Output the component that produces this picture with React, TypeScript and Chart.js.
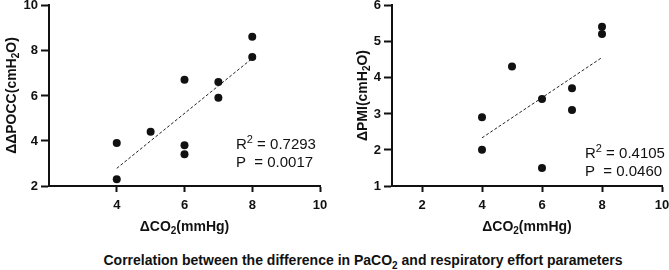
import React, { useEffect, useRef } from "react";
import { Chart, registerables } from "chart.js";
Chart.register(...registerables);

const leftX = [4, 4, 5, 6, 6, 6, 7, 7, 8, 8];
const leftY = [3.9, 2.3, 4.4, 6.7, 3.8, 3.4, 6.6, 5.9, 8.6, 7.7];
const leftFitX = [4, 8];
const leftFitY = [2.78, 7.64];
const rightX = [4, 4, 5, 6, 6, 7, 7, 8, 8];
const rightY = [2.9, 2.0, 4.3, 3.4, 1.5, 3.7, 3.1, 5.4, 5.2];
const rightFitX = [4, 8];
const rightFitY = [2.33, 4.55];
const leftXTicks = [4, 6, 8, 10];
const rightXTicks = [2, 4, 6, 8, 10];
const leftYTicks = [2, 4, 6, 8, 10];
const rightYTicks = [1, 2, 3, 4, 5, 6];
const leftStats = [["R", "2", " = 0.7293"], ["P  = 0.0017"]];
const rightStats = [["R", "2", " = 0.4105"], ["P  = 0.0460"]];
// title segments: [normal, subscript, normal]
const xTitle = ["ΔCO", "2", "(mmHg)"];
const leftYTitle = ["ΔΔPOCC(cmH", "2", "O)"];
const rightYTitle = ["ΔPMI(cmH", "2", "O)"];

const FONT = "'Liberation Sans', Arial, Helvetica, sans-serif";
const INK = "#111";

function drawSegs(ctx: any, segs: string[], cx: number, cy: number, size: number) {
  const big = `bold ${size}px ${FONT}`;
  const small = `bold ${Math.round(size * 0.72)}px ${FONT}`;
  let total = 0;
  const widths = segs.map((s, i) => {
    ctx.font = i === 1 ? small : big;
    const w = ctx.measureText(s).width;
    total += w;
    return w;
  });
  let x = cx - total / 2;
  segs.forEach((s, i) => {
    ctx.font = i === 1 ? small : big;
    ctx.fillText(s, x, cy + (i === 1 ? size * 0.3 : 0));
    x += widths[i];
  });
}

const labelsPlugin = {
  id: "axlabels",
  afterDraw(chart: any, _args: any, opts: any) {
    const ctx = chart.ctx;
    const a = chart.chartArea;
    ctx.save();
    ctx.fillStyle = INK;
    // tick labels
    ctx.font = `bold 13px ${FONT}`;
    ctx.textBaseline = "middle";
    ctx.textAlign = "center";
    const xs = chart.scales.x;
    xs.ticks.forEach((t: any) => {
      ctx.fillText(String(t.value), xs.getPixelForValue(t.value), a.bottom + 19);
    });
    ctx.textAlign = "right";
    const ys = chart.scales.y;
    ys.ticks.forEach((t: any) => {
      ctx.fillText(String(t.value), a.left - 11, ys.getPixelForValue(t.value) + 0.5);
    });
    // titles
    ctx.textAlign = "left";
    drawSegs(ctx, opts.x, (a.left + a.right) / 2, opts.xy, 14);
    ctx.translate(opts.yx, (a.top + a.bottom) / 2);
    ctx.rotate(-Math.PI / 2);
    drawSegs(ctx, opts.y, 0, 0, 14);
    ctx.restore();
  },
};

const statsPlugin = {
  id: "stats",
  afterDraw(chart: any, _args: any, opts: any) {
    const ctx = chart.ctx;
    ctx.save();
    ctx.fillStyle = INK;
    ctx.textBaseline = "middle";
    ctx.textAlign = "left";
    (opts.lines || []).forEach((segs: string[], i: number) => {
      let x = opts.x;
      const y = opts.y + i * opts.gap;
      segs.forEach((s, j) => {
        const sup = j === 1;
        ctx.font = sup ? `11px ${FONT}` : `15px ${FONT}`;
        ctx.fillText(s, x, y - (sup ? 5 : 0));
        x += ctx.measureText(s).width;
      });
    });
    ctx.restore();
  },
};

function makeConfig(p: {
  xs: number[]; ys: number[]; fx: number[]; fy: number[];
  xmin: number; xmax: number; ymin: number; ymax: number;
  xticks: number[]; yticks: number[]; ytitle: string[];
  yWidth: number; yTitleX: number; padRight: number;
  stats: string[][]; sx: number; sy: number;
}) {
  return {
    type: "scatter",
    data: {
      datasets: [
        {
          data: p.xs.map((x, i) => ({ x, y: p.ys[i] })),
          pointRadius: 4,
          pointHoverRadius: 4,
          backgroundColor: INK,
          borderWidth: 0,
        },
        {
          type: "line",
          data: p.fx.map((x, i) => ({ x, y: p.fy[i] })),
          showLine: true,
          borderColor: "#222",
          borderWidth: 1,
          borderDash: [3, 2],
          pointRadius: 0,
          fill: false,
        },
      ],
    },
    options: {
      animation: false,
      responsive: false,
      maintainAspectRatio: false,
      layout: { padding: { left: 0, right: p.padRight, top: 5, bottom: 0 } },
      plugins: {
        legend: { display: false },
        tooltip: { enabled: false },
        stats: { lines: p.stats, x: p.sx, y: p.sy, gap: 18 },
        axlabels: { x: xTitle, y: p.ytitle, xy: 227, yx: p.yTitleX },
      },
      scales: {
        x: {
          type: "linear",
          min: p.xmin,
          max: p.xmax,
          afterBuildTicks: (s: any) => { s.ticks = p.xticks.map((v) => ({ value: v })); },
          afterFit: (s: any) => { s.height = 54; s.paddingLeft = 0; s.paddingRight = 0; },
          grid: { drawOnChartArea: false, drawTicks: true, tickLength: 6, tickWidth: 2, tickColor: INK },
          border: { color: INK, width: 2 },
          ticks: { display: false },
          title: { display: false },
        },
        y: {
          type: "linear",
          min: p.ymin,
          max: p.ymax,
          afterBuildTicks: (s: any) => { s.ticks = p.yticks.map((v) => ({ value: v })); },
          afterFit: (s: any) => { s.width = p.yWidth; s.paddingTop = 0; s.paddingBottom = 0; },
          grid: { drawOnChartArea: false, drawTicks: true, tickLength: 8, tickWidth: 2, tickColor: INK },
          border: { color: INK, width: 2 },
          ticks: { display: false },
          title: { display: false },
        },
      },
    },
    plugins: [statsPlugin, labelsPlugin],
  } as any;
}

function ChartCanvas({ config, style }: { config: any; style: React.CSSProperties }) {
  const ref = useRef<HTMLCanvasElement>(null);
  useEffect(() => {
    if (!ref.current) return;
    const c = new Chart(ref.current, config);
    return () => c.destroy();
  }, []);
  const w = style.width as number;
  const h = style.height as number;
  return <canvas ref={ref} width={w} height={h} style={{ position: "absolute", ...style }} />;
}

export default function App() {
  const leftCfg = makeConfig({
    xs: leftX, ys: leftY, fx: leftFitX, fy: leftFitY,
    xmin: 2, xmax: 10, ymin: 2, ymax: 10,
    xticks: leftXTicks, yticks: leftYTicks, ytitle: leftYTitle,
    yWidth: 49, yTitleX: 12, padRight: 14,
    stats: leftStats, sx: 236, sy: 145,
  });
  const rightCfg = makeConfig({
    xs: rightX, ys: rightY, fx: rightFitX, fy: rightFitY,
    xmin: 1, xmax: 10, ymin: 1, ymax: 6,
    xticks: rightXTicks, yticks: rightYTicks, ytitle: rightYTitle,
    yWidth: 58, yTitleX: 29, padRight: 7,
    stats: rightStats, sx: 251, sy: 154,
  });
  return (
    <div style={{ position: "fixed", left: 0, top: 0, width: 669, height: 270, background: "#fff", overflow: "hidden" }}>
      <ChartCanvas config={leftCfg} style={{ left: 0, top: 0, width: 334, height: 240 }} />
      <ChartCanvas config={rightCfg} style={{ left: 334, top: 0, width: 335, height: 240 }} />
      <div
        style={{
          position: "absolute", left: 0, width: 726, top: 251, textAlign: "center",
          fontFamily: FONT, fontWeight: "bold", fontSize: 14, lineHeight: "18px", color: INK,
        }}
      >
        Correlation between the difference in PaCO
        <span style={{ fontSize: 10, position: "relative", top: 4 }}>2</span> and respiratory effort parameters
      </div>
    </div>
  );
}
